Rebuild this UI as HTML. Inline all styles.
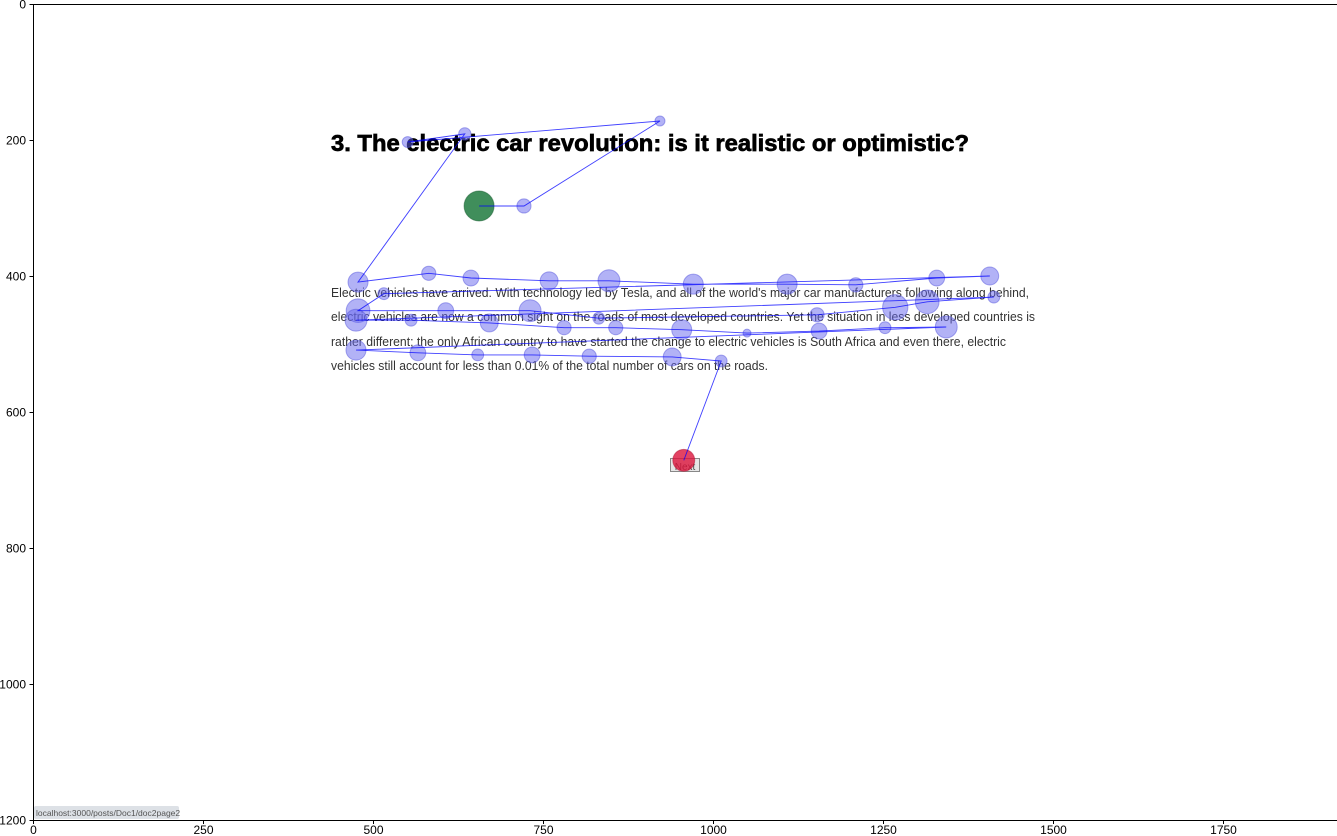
<!DOCTYPE html>
<html><head><meta charset="utf-8"><style>
html,body{margin:0;padding:0;background:#fff;width:1337px;height:836px;overflow:hidden}
svg{display:block;font-family:"Liberation Sans",sans-serif}
</style></head><body>
<svg id="chart" width="1337" height="836" viewBox="0 0 1337 836">
<g id="bg">
<text x="331" y="151" font-size="23" font-weight="bold" fill="#000" stroke="#000" stroke-width="0.7" textLength="638" lengthAdjust="spacingAndGlyphs">3. The electric car revolution: is it realistic or optimistic?</text>
<g font-size="12.5" fill="#333">
<text x="331" y="297" textLength="698" lengthAdjust="spacingAndGlyphs">Electric vehicles have arrived. With technology led by Tesla, and all of the world's major car manufacturers following along behind,</text>
<text x="331" y="321" textLength="704" lengthAdjust="spacingAndGlyphs">electric vehicles are now a common sight on the roads of most developed countries. Yet the situation in less developed countries is</text>
<text x="331" y="346" textLength="675" lengthAdjust="spacingAndGlyphs">rather different; the only African country to have started the change to electric vehicles is South Africa and even there, electric</text>
<text x="331" y="370" textLength="437" lengthAdjust="spacingAndGlyphs">vehicles still account for less than 0.01% of the total number of cars on the roads.</text>
</g>
<rect x="670.5" y="458.5" width="29" height="13" fill="#e6e6e6" stroke="#888"/>
<text x="685" y="470" font-size="10" text-anchor="middle" fill="#444">Next</text>
<rect x="34" y="806" width="145" height="13" rx="2" fill="#dde1e6"/>
<text x="36" y="816" font-size="8.5" fill="#555">localhost:3000/posts/Doc1/doc2page2</text>
</g>
<g id="marks"></g>
<g id="axes"></g>
</svg>
<script>
const xs=[656,722,922,551,635,478,582,644,759,847,971,1109,1210,1329,1407,516,478,607,731,832,1153,1268,1315,1413,475,556,671,781,857,954,1050,1156,1253,1343,475,566,654,734,818,940,1012,957];
const ys=[297,297,172,203,191,409,396,403,407,407,412,412,413,403,400,426,451,451,451,462,457,446,438,431,465,465,469,476,476,479,484,481,476,475,509,513,516,516,518,519,525,671];
const durations=[900,200,100,120,150,400,200,250,320,480,400,400,200,250,320,140,560,250,480,140,200,640,560,140,480,140,320,200,200,400,64,250,140,480,400,250,140,250,200,320,140,480];
const xTicks=[0,250,500,750,1000,1250,1500,1750];
const yTicks=[0,200,400,600,800,1000,1200];
const NS="http://www.w3.org/2000/svg";
const X0=33,Y0=4,S=0.68;
function sx(v){return X0+v*S;}
function sy(v){return Y0+v*S;}
function mk(t,a){const e=document.createElementNS(NS,t);for(const k in a)e.setAttribute(k,a[k]);return e;}
const marks=document.getElementById('marks');
const n=xs.length;
for(let i=0;i<n;i++){
  const r=Math.sqrt(durations[i])/2;
  let fill='#6666ee',op=0.5,stroke='#5555dd';
  if(i===0){fill='#1f7a3e';op=0.85;stroke='#145a2c';}
  if(i===n-1){fill='#dc143c';op=0.8;stroke='#b01030';}
  const c=mk('circle',{cx:sx(xs[i]),cy:sy(ys[i]),r:r,fill:fill,'fill-opacity':op,stroke:stroke,'stroke-opacity':0.5,'stroke-width':1});
  
  
  marks.appendChild(c);
}
let d='';
for(let i=0;i<n;i++){d+=(i?'L':'M')+sx(xs[i]).toFixed(1)+','+sy(ys[i]).toFixed(1);}
const p=mk('path',{d:d,fill:'none',stroke:'#0000ff','stroke-opacity':0.75,'stroke-width':0.9});


marks.appendChild(p);
const axes=document.getElementById('axes');
const fr=mk('rect',{x:X0+0.5,y:Y0+0.5,width:1337-X0,height:816,fill:'none',stroke:'#000','stroke-width':1});


axes.appendChild(fr);
xTicks.forEach(v=>{
  const x=sx(v)+0.5;
  axes.appendChild(mk('line',{x1:x,x2:x,y1:820.5,y2:824,stroke:'#000'}));
  const t=mk('text',{x:x,y:834,'font-size':12,'text-anchor':'middle',fill:'#000'});
  t.textContent=v;
  
  
  axes.appendChild(t);
});
yTicks.forEach(v=>{
  const y=sy(v)+0.5;
  axes.appendChild(mk('line',{x1:29.5,x2:33.5,y1:y,y2:y,stroke:'#000'}));
  const t=mk('text',{x:26,y:y+4,'font-size':12,'text-anchor':'end',fill:'#000'});
  t.textContent=v;
  
  
  axes.appendChild(t);
});
</script>
</body></html>
